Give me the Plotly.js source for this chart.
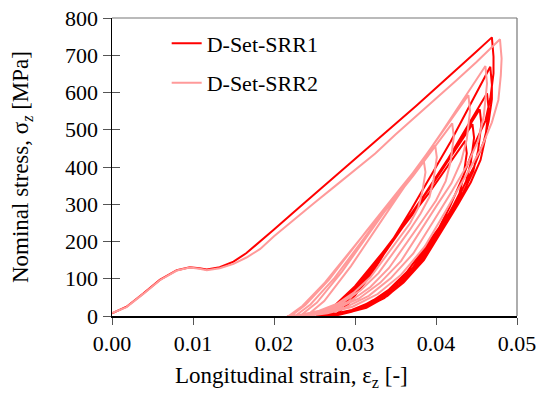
<!DOCTYPE html>
<html>
<head>
<meta charset="utf-8">
<script src="https://cdn.plot.ly/plotly-3.0.1.min.js"></script>
<style>
html,body{margin:0;padding:0;background:#fff}
#chart{width:539px;height:393px}
</style>
</head>
<body>
<div id="chart"></div>
<script>
// ---- Data (strain [-], stress [MPa]) ----
const seriesNames = ["D-Set-SRR1", "D-Set-SRR2"];

// Monotonic loading branch
const srr1LoadX = [0, 0.0018, 0.0039, 0.0059, 0.008, 0.0096, 0.0108, 0.0117, 0.0133, 0.015, 0.0166, 0.0183, 0.02, 0.0225, 0.025, 0.0275, 0.03, 0.0325, 0.035, 0.0375, 0.04, 0.0425, 0.045, 0.0469];
const srr1LoadY = [7, 25, 61, 97, 123, 131, 128, 125, 131, 146, 169, 200, 232, 280, 327, 373, 420, 468, 515, 563, 612, 660, 710, 748];
const srr2LoadX = [0, 0.0018, 0.0039, 0.0059, 0.008, 0.0096, 0.0108, 0.0117, 0.0133, 0.015, 0.0166, 0.0183, 0.02, 0.0225, 0.025, 0.0275, 0.03, 0.0325, 0.035, 0.0375, 0.04, 0.0425, 0.045, 0.0475, 0.0479];
const srr2LoadY = [8, 24, 60, 96, 122, 130, 127, 123, 128, 140, 157, 180, 214, 260, 304, 348, 392, 436, 487, 535, 583, 632, 682, 735, 743];

// Unloading / reloading cycles (continuing from the load peak)
const srr1CycleX = [
  0.0471,0.0471,0.0467,0.0461,0.0450,0.0435,0.0417,0.0396,0.0372,0.0348,0.0323,0.0297,0.0274,
  0.0292,0.0321,0.0370,0.0418,0.0467,
  0.0469,0.0469,0.0465,0.0459,0.0447,0.0431,0.0411,0.0389,0.0364,0.0340,0.0314,0.0288,0.0266,
  0.0286,0.0315,0.0365,0.0414,0.0463,
  0.0465,0.0461,0.0455,0.0443,0.0427,0.0407,0.0385,0.0360,0.0336,0.0310,0.0284,0.0262,
  0.0281,0.0310,0.0358,0.0406,0.0454,
  0.0456,0.0452,0.0446,0.0434,0.0419,0.0399,0.0378,0.0354,0.0331,0.0305,0.0280,0.0258,
  0.0277,0.0305,0.0352,0.0398,0.0445,
  0.0447,0.0443,0.0437,0.0426,0.0411,0.0392,0.0371,0.0348,0.0325,0.0301,0.0276,0.0255,
  0.0273,0.0300,0.0346,0.0391,0.0436,
  0.0438,0.0434,0.0429,0.0418,0.0403,0.0384,0.0364,0.0342,0.0320,0.0296,0.0272,0.0252
];
const srr1CycleY = [
  696,651,583,524,473,383,293,204,123,79,43,12,0,
  33,114,288,468,669,
  622,582,522,468,401,335,254,167,100,54,22,7,0,
  30,102,257,419,598,
  556,478,419,359,299,227,150,90,48,20,6,0,
  28,94,239,389,555,
  516,444,389,333,278,211,139,83,44,18,6,0,
  26,88,221,361,515,
  479,412,361,309,258,196,129,77,41,17,5,0,
  24,80,202,329,470,
  437,376,329,282,235,179,118,71,38,16,5,0
];
const srr2CycleX = [
  0.0481,0.0480,0.0477,0.0469,0.0455,0.0436,0.0412,0.0386,0.0357,0.0328,0.0297,0.0266,0.0240,
  0.0262,0.0295,0.0351,0.0406,0.0461,
  0.0463,0.0459,0.0452,0.0438,0.0420,0.0397,0.0372,0.0344,0.0317,0.0287,0.0257,0.0232,
  0.0253,0.0284,0.0336,0.0388,0.0440,
  0.0442,0.0438,0.0431,0.0419,0.0401,0.0380,0.0357,0.0331,0.0305,0.0277,0.0250,0.0226,
  0.0245,0.0275,0.0323,0.0372,0.0420,
  0.0422,0.0418,0.0412,0.0400,0.0384,0.0364,0.0342,0.0319,0.0295,0.0269,0.0243,0.0221,
  0.0239,0.0268,0.0314,0.0357,0.0399,
  0.0401,0.0397,0.0392,0.0381,0.0367,0.0349,0.0329,0.0307,0.0285,0.0261,0.0238,0.0218,
  0.0235,0.0263,0.0306,0.0347,0.0385,
  0.0387,0.0383,0.0378,0.0368,0.0354,0.0337,0.0319,0.0298,0.0278,0.0256,0.0235,0.0216
];
const srr2CycleY = [
  691,646,580,520,446,372,282,186,111,59,25,7,0,
  40,134,315,490,671,
  624,537,470,403,336,255,168,101,54,22,7,0,
  36,119,279,433,593,
  551,474,415,356,297,225,148,89,47,20,6,0,
  31,103,243,377,517,
  481,414,362,310,259,196,129,78,41,17,5,0,
  30,98,228,345,458,
  426,366,320,275,229,174,115,69,37,15,5,0,
  27,90,206,316,415,
  386,332,290,249,208,158,104,62,33,14,4,0
];

const xTickVals = [0, 0.01, 0.02, 0.03, 0.04, 0.05];
const xTickText = ["0.00", "0.01", "0.02", "0.03", "0.04", "0.05"];
const yTickVals = [0, 100, 200, 300, 400, 500, 600, 700, 800];
const xTitle = "Longitudinal strain, ε<sub>z</sub> [-]";
const yTitle = "Nominal stress, σ<sub><i>z</i></sub> [MPa]";

// ---- Chart ----
const FONT = "Liberation Serif, Times New Roman, serif";
const traces = [
  {
    x: srr1LoadX.concat(srr1CycleX), y: srr1LoadY.concat(srr1CycleY),
    type: "scatter", mode: "lines", name: seriesNames[0], legendgroup: "a",
    line: {color: "#ff0000", width: 2}
  },
  {
    x: srr2LoadX.concat(srr2CycleX), y: srr2LoadY.concat(srr2CycleY),
    type: "scatter", mode: "lines", name: seriesNames[1], legendgroup: "b",
    line: {color: "#ff9a9a", width: 2}
  },
  { // invisible trace to carry the inner half of the y ticks
    x: [0], y: [0], yaxis: "y2", type: "scatter", mode: "lines",
    showlegend: false, hoverinfo: "skip", line: {width: 0}
  }
];

const layout = {
  width: 539, height: 393,
  margin: {l: 112, r: 22, t: 18, b: 77},
  paper_bgcolor: "#ffffff", plot_bgcolor: "#ffffff",
  font: {family: FONT, color: "#000", size: 21},
  showlegend: true,
  legend: {
    x: 0.135, y: 0.985, xanchor: "left", yanchor: "top",
    bgcolor: "rgba(0,0,0,0)", font: {family: FONT, size: 22, color: "#000"},
    tracegroupgap: 8, traceorder: "grouped"
  },
  xaxis: {
    range: [0, 0.05], tickmode: "array", tickvals: xTickVals, ticktext: xTickText,
    showgrid: false, zeroline: false,
    showline: true, linecolor: "#000", linewidth: 1.5,
    ticks: "outside", ticklen: 7, tickcolor: "#555", tickwidth: 1,
    tickfont: {family: FONT, size: 22, color: "#000"}
  },
  yaxis: {
    range: [0, 800], tickmode: "array", tickvals: yTickVals,
    showgrid: false, zeroline: false,
    showline: true, linecolor: "#000", linewidth: 1.5,
    ticks: "outside", ticklen: 8, tickcolor: "#555", tickwidth: 1,
    tickfont: {family: FONT, size: 22, color: "#000"}
  },
  yaxis2: {
    range: [0, 800], overlaying: "y", side: "left", tickmode: "array", tickvals: yTickVals,
    showgrid: false, zeroline: false, showline: false, showticklabels: false,
    ticks: "inside", ticklen: 8, tickcolor: "#555", tickwidth: 1
  },
  annotations: [
    {text: xTitle, xref: "paper", yref: "paper", x: 0.442, y: -0.205, xanchor: "center", yanchor: "middle",
     showarrow: false, font: {family: FONT, size: 23, color: "#000"}},
    {text: yTitle, xref: "paper", yref: "paper", x: -0.222, y: 0.5, xanchor: "center", yanchor: "middle",
     textangle: -90, showarrow: false, font: {family: FONT, size: 23, color: "#000"}}
  ],
  shapes: [
    {type: "line", xref: "paper", yref: "paper", x0: 0, x1: 1, y0: 1, y1: 1, line: {color: "#777", width: 1.2}},
    {type: "line", xref: "paper", yref: "paper", x0: 1, x1: 1, y0: 0, y1: 1, line: {color: "#777", width: 1.2}}
  ]
};

Plotly.newPlot("chart", traces, layout, {staticPlot: true, displayModeBar: false});
</script>
</body>
</html>
